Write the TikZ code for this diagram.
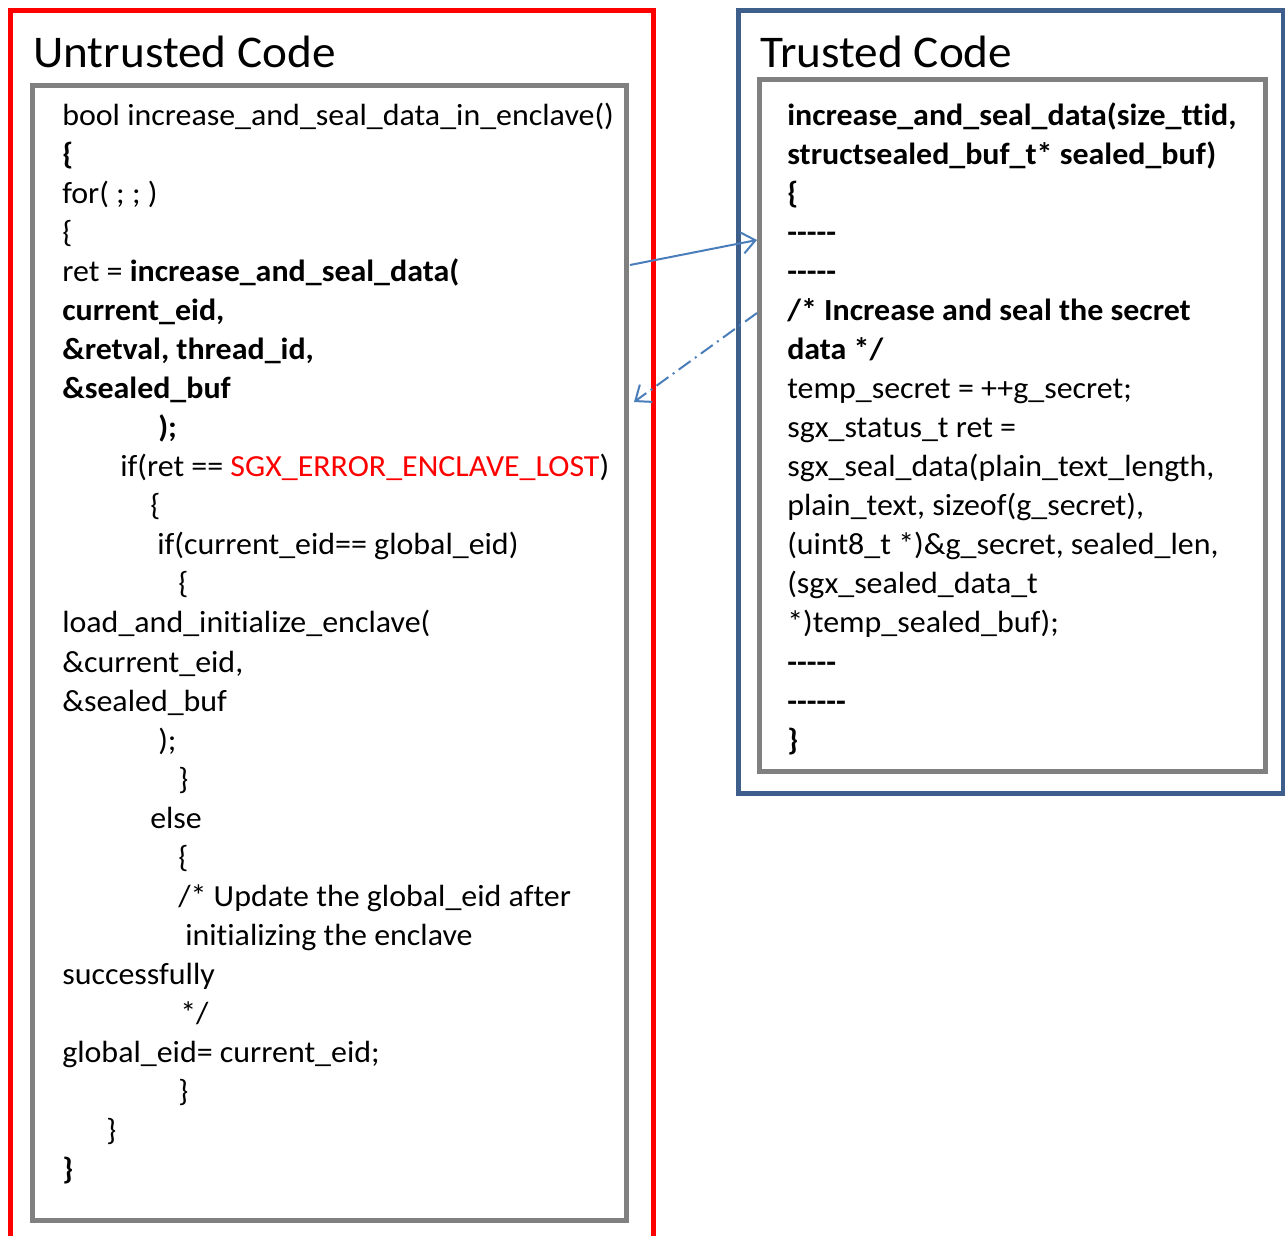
\documentclass[tikz,border=0pt]{standalone}
\usepackage{fontspec}
\setmainfont{Carlito}[Ligatures={TeXOff,NoCommon},FakeStretch=1.042]
\usetikzlibrary{arrows.meta}

\definecolor{boxgray}{RGB}{128,128,128}
\definecolor{trustblue}{RGB}{62,95,140}
\definecolor{callblue}{RGB}{74,126,187}

\tikzset{
  code/.style={anchor=base west,inner sep=0pt,font=\fontsize{23}{28}\selectfont},
  title/.style={anchor=base west,inner sep=0pt,font=\fontsize{34}{40}\selectfont},
  call/.style={callblue,line width=1.5pt,-{Straight Barb[length=10pt,width=16pt,line width=1.5pt]}}
}

\begin{document}
\begin{tikzpicture}[x=0.75pt,y=-0.75pt]
\useasboundingbox (0,0) rectangle (1285,1236);

% frames
\draw[red,line width=3.75pt] (10,1236) -- (10,10) -- (653,10) -- (653,1236);
\draw[boxgray,line width=3.75pt] (32,85) rectangle (626,1220);
\draw[trustblue,line width=3.75pt] (738,10) rectangle (1283,793);
\draw[boxgray,line width=3.75pt] (759,79) rectangle (1265,771);

\node[title] (untrusted) at (33,67) {Untrusted Code};
\node[title] (trusted) at (760,67) {Trusted Code};

% untrusted side
\node[code] (l0) at (62,125) {bool increase\_and\_seal\_data\_in\_enclave()};
\node[code] (l1) at (62,164.1) {\textbf{\{}};
\node[code] (l2) at (62,203.1) {for( ; ; )};
\node[code] (l3) at (62,242.2) {\{};
\node[code] (l4) at (62,281.3) {ret = \textbf{increase\_and\_seal\_data(}};
\node[code] (l5) at (62,320.4) {\textbf{current\_eid,}};
\node[code] (l6) at (62,359.4) {\textbf{\&retval, thread\_id,}};
\node[code] (l7) at (62,398.5) {\textbf{\&sealed\_buf}};
\node[code] (l8) at (158,437.6) {\textbf{);}};
\node[code] (l9) at (120,476.6) {if(ret == \textcolor{red}{SGX\_ERROR\_ENCLAVE\_LOST})};
\node[code] (l10) at (150,515.7) {\{};
\node[code] (l11) at (157,554.8) {if(current\_eid== global\_eid)};
\node[code] (l12) at (178,593.8) {\{};
\node[code] (l13) at (62,632.9) {load\_and\_initialize\_enclave(};
\node[code] (l14) at (62,672.0) {\&current\_eid,};
\node[code] (l15) at (62,711.1) {\&sealed\_buf};
\node[code] (l16) at (158,750.1) {);};
\node[code] (l17) at (178,789.2) {\}};
\node[code] (l18) at (150,828.3) {else};
\node[code] (l19) at (178,867.3) {\{};
\node[code] (l20) at (178,906.4) {/* Update the global\_eid after};
\node[code] (l21) at (185,945.5) {initializing the enclave};
\node[code] (l22) at (62,984.5) {successfully};
\node[code] (l23) at (180,1023.6) {*/};
\node[code] (l24) at (62,1062.7) {global\_eid= current\_eid;};
\node[code] (l25) at (178,1101.8) {\}};
\node[code] (l26) at (106,1140.8) {\}};
\node[code] (l27) at (62,1179.9) {\textbf{\}}};

% trusted side
\node[code] (r0) at (787,125) {\textbf{increase\_and\_seal\_data(size\_ttid,}};
\node[code] (r1) at (787,164.1) {\textbf{structsealed\_buf\_t* sealed\_buf)}};
\node[code] (r2) at (787,203.1) {\textbf{\{}};
\node[code] (r3) at (787,242.2) {\textbf{-----}};
\node[code] (r4) at (787,281.3) {\textbf{-----}};
\node[code] (r5) at (787,320.4) {\textbf{/* Increase and seal the secret}};
\node[code] (r6) at (787,359.4) {\textbf{data */}};
\node[code] (r7) at (787,398.5) {temp\_secret = ++g\_secret;};
\node[code] (r8) at (787,437.6) {sgx\_status\_t ret =};
\node[code] (r9) at (787,476.6) {sgx\_seal\_data(plain\_text\_length,};
\node[code] (r10) at (787,515.7) {plain\_text, sizeof(g\_secret),};
\node[code] (r11) at (787,554.8) {(uint8\_t *)\&g\_secret, sealed\_len,};
\node[code] (r12) at (787,593.8) {(sgx\_sealed\_data\_t};
\node[code] (r13) at (787,632.9) {*)temp\_sealed\_buf);};
\node[code] (r14) at (787,672.0) {\textbf{-----}};
\node[code] (r15) at (787,711.1) {\textbf{------}};
\node[code] (r16) at (787,750.1) {\textbf{\}}};

% call into the enclave and the return
\coordinate (callfrom) at (630,265);
\coordinate (callto) at (757,240);
\coordinate (retfrom) at (757,313);
\coordinate (retto) at (634,402);
\draw[call] (callfrom) -- (callto);
\draw[call,dash pattern=on 11pt off 4pt on 1.5pt off 4pt] (retfrom) -- (retto);
\end{tikzpicture}
\end{document}
